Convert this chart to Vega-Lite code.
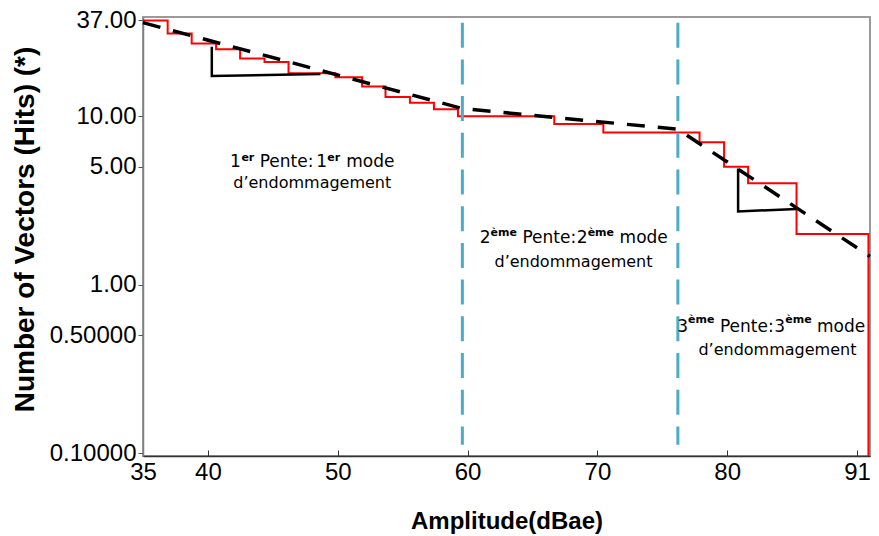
{
  "$schema": "https://vega.github.io/schema/vega-lite/v6.json",
  "width": 727,
  "height": 439,
  "autosize": {"type": "none"},
  "padding": {"left": 143, "top": 17, "right": 9, "bottom": 80},
  "background": "white",
  "config": {
    "view": {"stroke": "#9a9a9a", "strokeWidth": 2},
    "axis": {"grid": false}
  },
  "encoding": {
    "x": {
      "field": "amp", "type": "quantitative",
      "scale": {"domain": [35, 91], "nice": false, "zero": false},
      "axis": {
        "values": [35, 40, 50, 60, 70, 80, 90],
        "labelExpr": "datum.value == 90 ? '91' : datum.label",
        "labelFlush": false, "labelOverlap": false, "labelBound": false,
        "labelFont": "Liberation Sans", "labelFontSize": 24, "labelColor": "black",
        "labelPadding": 10,
        "tickSize": -6, "tickColor": "#333333", "tickWidth": 1,
        "domainColor": "#333333", "domainWidth": 1.5,
        "title": "Amplitude(dBae)",
        "titleFont": "Liberation Sans", "titleFontSize": 24, "titleFontWeight": "bold", "titleColor": "black",
        "titleY": 65, "titleBaseline": "middle"
      }
    },
    "y": {
      "field": "hits", "type": "quantitative",
      "scale": {"type": "log", "domain": [0.096, 38.8], "nice": false},
      "axis": {
        "values": [0.1, 0.5, 1, 5, 10, 37],
        "labelExpr": "datum.value < 1 ? format(datum.value, '.5f') : format(datum.value, '.2f')",
        "labelFont": "Liberation Sans", "labelFontSize": 24, "labelColor": "black",
        "labelPadding": 2, "labelOverlap": false, "labelBound": false, "labelFlush": false,
        "tickSize": 5, "tickColor": "#555555",
        "domainColor": "#808080", "domainWidth": 1.5,
        "title": "Number of Vectors (Hits) (*)",
        "titleFont": "Liberation Sans", "titleFontSize": 28, "titleFontWeight": "bold", "titleColor": "black",
        "titleX": -118, "titleY": 212, "titleBaseline": "middle", "titleAlign": "center", "titleAngle": -90
      }
    }
  },
  "layer": [
    {
      "data": {"values": [
        {"amp": 35, "hits": 37}, {"amp": 36.9, "hits": 31}, {"amp": 38.75, "hits": 27},
        {"amp": 40.63, "hits": 25}, {"amp": 42.48, "hits": 22}, {"amp": 44.36, "hits": 21},
        {"amp": 46.21, "hits": 18}, {"amp": 49.82, "hits": 17}, {"amp": 51.88, "hits": 15},
        {"amp": 53.68, "hits": 13}, {"amp": 55.56, "hits": 12}, {"amp": 57.41, "hits": 11},
        {"amp": 59.26, "hits": 10}, {"amp": 66.68, "hits": 9}, {"amp": 70.46, "hits": 8},
        {"amp": 77.87, "hits": 7}, {"amp": 79.76, "hits": 5}, {"amp": 81.61, "hits": 4},
        {"amp": 85.34, "hits": 2}, {"amp": 90.88, "hits": 0.096}
      ]},
      "mark": {"type": "line", "interpolate": "step-after", "color": "#ff0000", "strokeWidth": 2},
      "encoding": {}
    },
    {
      "data": {"values": [
        {"g": 1, "o": 1, "amp": 40.30, "hits": 25.87}, {"g": 1, "o": 2, "amp": 40.30, "hits": 17.3}, {"g": 1, "o": 3, "amp": 48.66, "hits": 17.8},
        {"g": 2, "o": 1, "amp": 80.84, "hits": 4.89}, {"g": 2, "o": 2, "amp": 80.84, "hits": 2.72}, {"g": 2, "o": 3, "amp": 85.34, "hits": 2.81}
      ]},
      "mark": {"type": "line", "color": "black", "strokeWidth": 2.5},
      "encoding": {"detail": {"field": "g", "type": "nominal"}, "order": {"field": "o", "type": "quantitative"}}
    },
    {
      "data": {"values": [
        {"amp": 35, "hits": 35.9}, {"amp": 59.6, "hits": 11.1}, {"amp": 76.2, "hits": 8.36}, {"amp": 91, "hits": 1.47}
      ]},
      "mark": {"type": "line", "color": "black", "strokeWidth": 3.5, "strokeDash": [18, 13], "clip": false},
      "encoding": {}
    },
    {
      "data": {"values": [
        {"amp": 59.6, "hits": 35.9, "hits2": 0.112},
        {"amp": 76.2, "hits": 35.9, "hits2": 0.112}
      ]},
      "mark": {"type": "rule", "color": "#4bacc6", "strokeWidth": 3, "strokeDash": [25, 11.7]},
      "encoding": {"y2": {"field": "hits2"}}
    },
    {
      "data": {"values": [
        {"amp": 41.71, "hits": 5.01, "label": "1"}, {"amp": 43.99, "hits": 5.01, "label": "Pente:"},
        {"amp": 48.35, "hits": 5.01, "label": "1"}, {"amp": 50.66, "hits": 5.01, "label": "mode"},
        {"amp": 60.94, "hits": 1.759, "label": "2"}, {"amp": 64.23, "hits": 1.759, "label": "Pente:"},
        {"amp": 68.42, "hits": 1.759, "label": "2"}, {"amp": 71.71, "hits": 1.759, "label": "mode"},
        {"amp": 76.15, "hits": 0.5253, "label": "3"}, {"amp": 79.44, "hits": 0.5253, "label": "Pente:"},
        {"amp": 83.63, "hits": 0.5253, "label": "3"}, {"amp": 86.92, "hits": 0.5253, "label": "mode"}
      ]},
      "mark": {"type": "text", "align": "left", "baseline": "alphabetic", "font": "DejaVu Sans", "fontSize": 17, "color": "black"},
      "encoding": {"text": {"field": "label"}}
    },
    {
      "data": {"values": [
        {"amp": 42.58, "hits": 5.44, "label": "er"}, {"amp": 49.20, "hits": 5.44, "label": "er"},
        {"amp": 61.77, "hits": 1.952, "label": "ème"}, {"amp": 69.25, "hits": 1.952, "label": "ème"},
        {"amp": 76.98, "hits": 0.589, "label": "ème"}, {"amp": 84.47, "hits": 0.589, "label": "ème"}
      ]},
      "mark": {"type": "text", "align": "left", "baseline": "alphabetic", "font": "DejaVu Sans", "fontSize": 11, "fontWeight": "bold", "color": "black"},
      "encoding": {"text": {"field": "label"}}
    },
    {
      "data": {"values": [
        {"amp": 48.04, "hits": 3.747, "label": "d’endommagement"},
        {"amp": 68.16, "hits": 1.277, "label": "d’endommagement"},
        {"amp": 83.87, "hits": 0.382, "label": "d’endommagement"}
      ]},
      "mark": {"type": "text", "align": "center", "baseline": "alphabetic", "font": "DejaVu Sans", "fontSize": 16, "color": "black"},
      "encoding": {"text": {"field": "label"}}
    }
  ]
}
